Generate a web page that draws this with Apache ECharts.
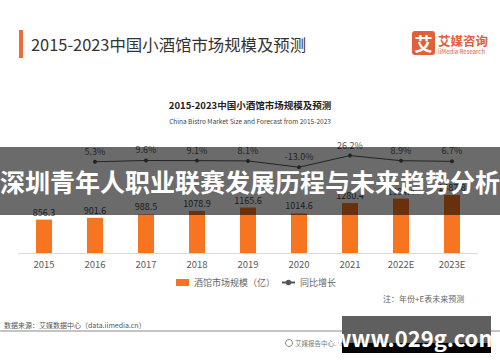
<!DOCTYPE html>
<html><head><meta charset="utf-8">
<script src="https://cdn.jsdelivr.net/npm/echarts@6/dist/echarts.min.js"></script>
<style>html,body{margin:0;padding:0;background:#fff}#c{width:500px;height:362px}</style>
</head><body><div id="c"></div>
<script>
const categories = ['2015','2016','2017','2018','2019','2020','2021','2022E','2023E'];
const marketSize = [856.3, 901.6, 988.5, 1078.9, 1165.6, 1014.6, 1280.4, 1394.4, 1487.8];
const growthRate = ['-', 5.3, 9.6, 9.1, 8.1, -13.0, 26.2, 8.9, 6.7];
const headerTitle = '2015-2023中国小酒馆市场规模及预测';
const innerTitle = '2015-2023中国小酒馆市场规模及预测';
const innerSubtitle = 'China Bistro Market Size and Forecast from 2015-2023';
const overlayText = '深圳青年人职业联赛发展历程与未来趋势分析';
const noteText = '注：年份+E表未来预测';
const sourceText = '数据来源：艾媒数据中心（data.iimedia.cn）';
const footerText = '艾媒报告中心: report.iimedia.cn ©2021 iiMedia Research Inc';
const watermark = 'www.029g.com';

const FONT = '"Noto Sans CJK SC","Noto Sans",sans-serif';
const chart = echarts.init(document.getElementById('c'), null, {renderer: 'svg'});
chart.setOption({
  backgroundColor: '#fff',
  animation: false,
  textStyle: {fontFamily: FONT},
  grid: [
    {left: 18.5, right: 22.5, top: 175, height: 78},
    {left: 18.5, right: 22.5, top: 150, height: 20}
  ],
  xAxis: [
    {type: 'category', gridIndex: 0, data: categories,
     axisLine: {lineStyle: {color: '#d9d9d9'}}, axisTick: {show: false},
     axisLabel: {color: '#595959', fontSize: 9.5, margin: 6, fontFamily: FONT}},
    {type: 'category', gridIndex: 1, data: categories, show: false}
  ],
  yAxis: [
    {type: 'value', gridIndex: 0, min: 0, max: 2000, show: false, splitLine: {show: false}},
    {type: 'value', gridIndex: 1, min: -22.5, max: 45, show: false, splitLine: {show: false}}
  ],
  legend: {
    left: 171, top: 273, itemWidth: 13, itemHeight: 7, itemGap: 6,
    textStyle: {color: '#666', fontSize: 9, fontFamily: FONT},
    data: [{name: '酒馆市场规模（亿）', icon: 'rect'}, {name: '同比增长'}]
  },
  series: [
    {name: '酒馆市场规模（亿）', type: 'bar', xAxisIndex: 0, yAxisIndex: 0, data: marketSize,
     barWidth: 16, itemStyle: {color: '#F77420'},
     label: {show: true, position: 'top', distance: 3, color: '#444', fontSize: 9, fontFamily: FONT,
             formatter: p => p.value.toFixed(1)}},
    {name: '同比增长', type: 'line', xAxisIndex: 1, yAxisIndex: 1, data: growthRate,
     symbol: 'circle', symbolSize: 4, lineStyle: {color: '#555', width: 1}, itemStyle: {color: '#555'},
     label: {show: true, position: 'top', distance: 4, color: '#555', fontSize: 9, fontFamily: FONT,
             formatter: p => p.value.toFixed(1) + '%'}}
  ],
  graphic: [
    {type: 'rect', shape: {x: 19, y: 30, width: 4, height: 28}, style: {fill: '#F06A35'}},
    {type: 'text', x: 31, y: 44, style: {text: headerTitle, fill: '#333', font: '16.4px ' + FONT, textVerticalAlign: 'middle'}},
    {type: 'rect', shape: {x: 412, y: 31, width: 23, height: 24, r: 3}, style: {fill: '#E0603A'}},
    {type: 'text', x: 423.5, y: 43, style: {text: '艾', fill: '#fff', font: 'bold 18px ' + FONT, textAlign: 'center', textVerticalAlign: 'middle'}},
    {type: 'text', x: 438, y: 40, style: {text: '艾媒咨询', fill: '#E0603A', font: 'bold 12.5px ' + FONT, textVerticalAlign: 'middle'}},
    {type: 'text', x: 438, y: 51, style: {text: 'iiMedia Research', fill: '#E0603A', font: '6px ' + FONT, textVerticalAlign: 'middle'}},
    {type: 'text', x: 250, y: 105, style: {text: innerTitle, fill: '#222', font: 'bold 9.5px ' + FONT, textAlign: 'center', textVerticalAlign: 'middle'}},
    {type: 'text', x: 250, y: 121, style: {text: innerSubtitle, fill: '#444', font: '6.5px ' + FONT, textAlign: 'center', textVerticalAlign: 'middle'}},
    {type: 'text', x: 383, y: 298, style: {text: noteText, fill: '#666', font: '8px ' + FONT, textVerticalAlign: 'middle'}},
    {type: 'text', x: 4, y: 325, style: {text: sourceText, fill: '#555', font: '7px ' + FONT, textVerticalAlign: 'middle'}},
    {type: 'line', shape: {x1: 0, y1: 331, x2: 500, y2: 331}, style: {stroke: '#b0b0b0', lineWidth: 1.5}},
    {type: 'circle', shape: {cx: 289, cy: 343, r: 3.5}, style: {fill: 'none', stroke: '#888', lineWidth: 1}},
    {type: 'text', x: 295, y: 343, style: {text: footerText, fill: '#777', font: '6.5px ' + FONT, textVerticalAlign: 'middle'}},
    {type: 'rect', z: 100, shape: {x: 0, y: 147, width: 500, height: 68}, style: {fill: 'rgba(0,0,0,0.58)'}},
    {type: 'text', z: 101, x: 250, y: 181, style: {text: overlayText, fill: '#fff', font: 'bold 25px ' + FONT, textAlign: 'center', textVerticalAlign: 'middle'}},
    {type: 'rect', z: 100, shape: {x: 342, y: 316, width: 149, height: 27}, style: {fill: '#5f5f5f'}},
    {type: 'rect', z: 100, shape: {x: 342, y: 343, width: 149, height: 10}, style: {fill: '#000'}},
    {type: 'text', z: 101, x: 416, y: 337, style: {text: watermark, fill: '#fff', font: 'bold 22px ' + FONT, textAlign: 'center', textVerticalAlign: 'middle'}}
  ]
});
</script></body></html>
